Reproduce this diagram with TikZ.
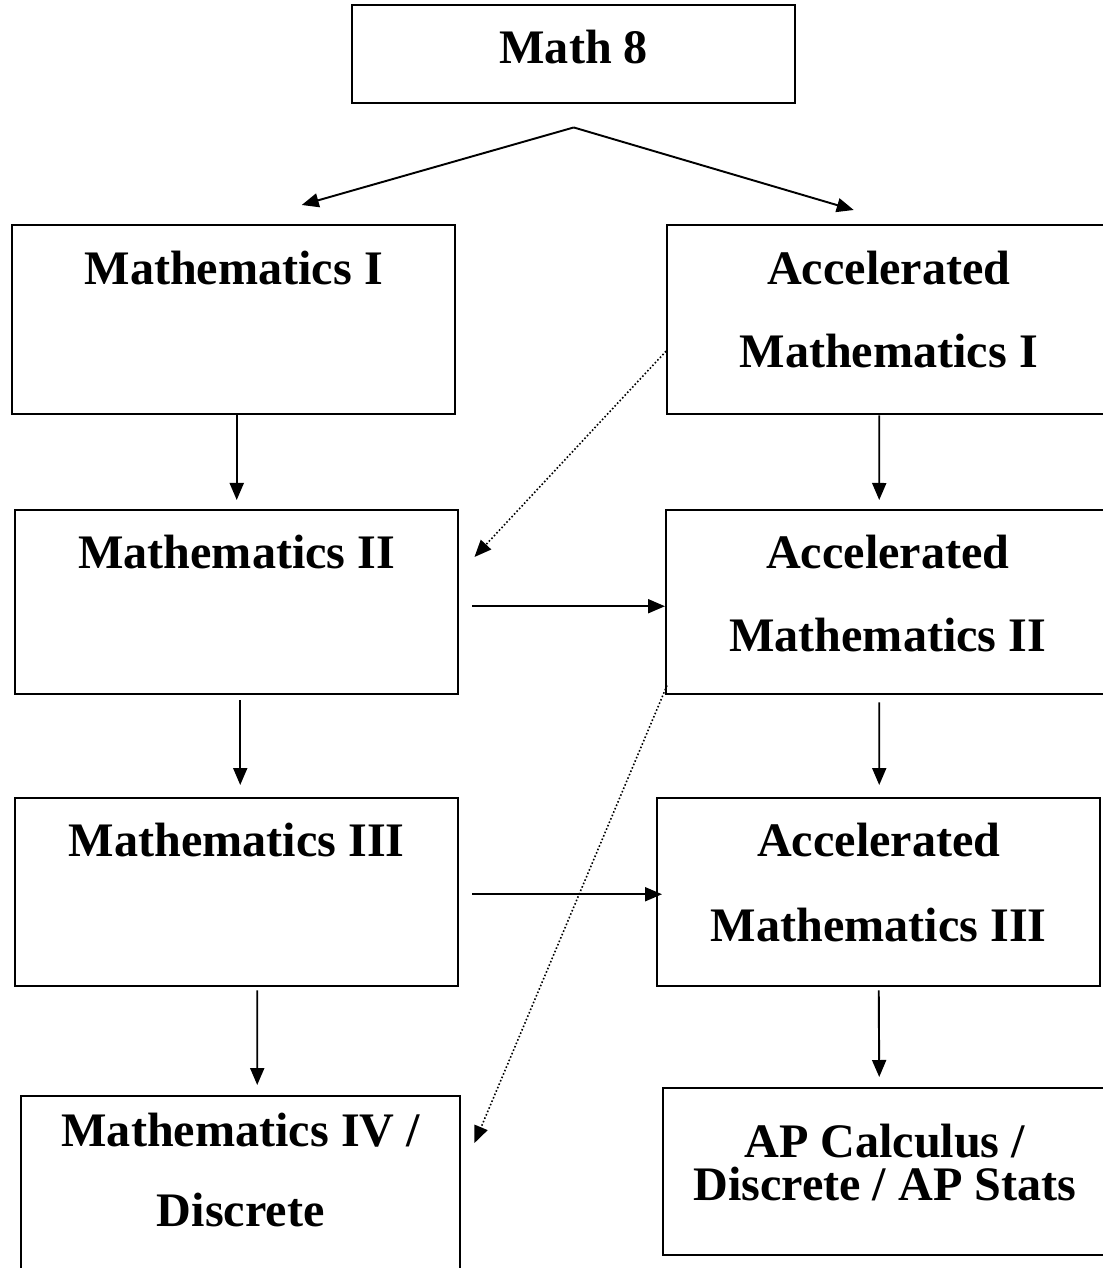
\documentclass[tikz,border=0pt]{standalone}
\usepackage{fontspec}
\setmainfont{Liberation Serif}
\usetikzlibrary{arrows.meta}

\tikzset{
  course/.style={draw, line width=0.7pt, minimum width=4.43cm, inner sep=0pt, anchor=north west},
  coursetext/.style={anchor=north, inner sep=0pt, align=center,
    font={\fontsize{13.7}{23.6}\selectfont\bfseries}},
  flow/.style={->, line width=0.55pt},
  option/.style={->, line width=0.45pt, dash pattern=on 0.45pt off 0.6pt},
  >={Triangle[length=0.17cm,width=0.14cm]}
}

\begin{document}
\begin{tikzpicture}
  \useasboundingbox (0,0) rectangle (11.02,-12.68);

  % boxes
  \node[course, minimum height=0.98cm] (m8) at (3.51,-0.04) {};
  \node[course, minimum height=1.89cm] (m1) at (0.11,-2.24) {};
  \node[course, minimum height=1.84cm] (m2) at (0.14,-5.09) {};
  \node[course, minimum height=1.88cm] (m3) at (0.14,-7.97) {};
  \node[course, minimum height=1.89cm, minimum width=4.39cm] (m4) at (0.20,-10.95) {};
  \node[course, minimum height=1.89cm] (a1) at (6.66,-2.24) {};
  \node[course, minimum height=1.84cm] (a2) at (6.65,-5.09) {};
  \node[course, minimum height=1.88cm] (a3) at (6.56,-7.97) {};
  \node[course, minimum height=1.67cm] (ap) at (6.62,-10.87) {};

  % course names
  \node[coursetext] (m8t) at ([yshift=-0.25cm]m8.north) {Math 8};
  \node[coursetext] (m1t) at ([yshift=-0.26cm]m1.north) {Mathematics I};
  \node[coursetext] (m2t) at ([yshift=-0.25cm]m2.north) {Mathematics II};
  \node[coursetext] (m3t) at ([yshift=-0.25cm]m3.north) {Mathematics III};
  \node[coursetext, font={\fontsize{13.7}{22.8}\selectfont\bfseries}] (m4t) at ([yshift=-0.17cm]m4.north) {Mathematics IV /\\Discrete};
  \node[coursetext] (a1t) at ([yshift=-0.26cm]a1.north) {Accelerated\\Mathematics I};
  \node[coursetext] (a2t) at ([yshift=-0.25cm]a2.north) {Accelerated\\Mathematics II};
  \node[coursetext, font={\fontsize{13.7}{24.2}\selectfont\bfseries}] (a3t) at ([yshift=-0.25cm]a3.north) {Accelerated\\Mathematics III};
  \node[coursetext, font={\fontsize{13.7}{12.2}\selectfont\bfseries}] (apt) at ([yshift=-0.36cm]ap.north) {AP Calculus /\\Discrete / AP Stats};

  % split below Math 8
  \coordinate (fork) at ([yshift=-0.23cm]m8.south);
  \draw[flow] (fork) -- ([xshift=0.68cm,yshift=0.19cm]m1.north);
  \draw[flow] (fork) -- ([xshift=-0.35cm,yshift=0.14cm]a1.north);

  % down the columns
  \draw[flow] (m1.south -| m2.north) -- ([yshift=0.09cm]m2.north);
  \draw[flow] ([shift={(0.035,-0.05)}]m2.south) -- ([shift={(0.035,0.12)}]m3.north);
  \draw[flow] ([shift={(0.205,-0.03)}]m3.south) -- ([shift={(0.165,0.10)}]m4.north);
  \draw[flow] ([xshift=-0.095cm]a1.south) -- ([shift={(-0.085,0.09)}]a2.north);
  \draw[flow] ([shift={(-0.085,-0.07)}]a2.south) -- ([shift={(0.005,0.12)}]a3.north);
  \draw[flow] ([yshift=-0.03cm]a3.south) -- ([shift={(-0.055,0.10)}]ap.north);

  % across
  \draw[flow] ([shift={(0.13,-0.04)}]m2.east) -- ([yshift=-0.04cm]a2.west);
  \draw[flow] ([shift={(0.13,-0.02)}]m3.east) -- ([shift={(0.06,-0.02)}]a3.west);

  % dotted moves back
  \draw[option] ([yshift=-0.315cm]a1.west) -- ([shift={(0.15,-0.48)}]m2.north east);
  \draw[option] ([shift={(0.02,0.10)}]a2.south west) -- ([shift={(0.13,-0.48)}]m4.north east);
\end{tikzpicture}
\end{document}
